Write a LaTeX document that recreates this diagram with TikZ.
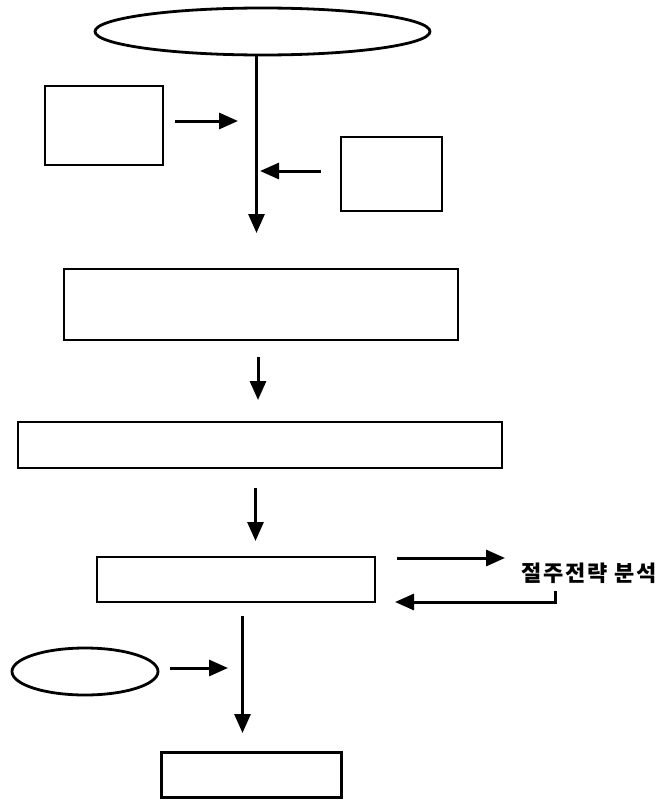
\documentclass[tikz,border=0pt]{standalone}
\usepackage{fontspec}
\newfontfamily\kr{Noto Sans CJK KR}[LetterSpace=8]
\usetikzlibrary{arrows.meta,shapes.geometric,calc}
\begin{document}
\begin{tikzpicture}[x=1pt,y=-1pt,
  box/.style={draw, line width=2.8pt, rectangle, inner sep=0pt},
  ell/.style={draw, line width=2.8pt, ellipse, inner sep=0pt},
  arr/.style={line width=3pt, -{Triangle[length=19pt,width=16pt]}},
  lbl/.style={font=\kr\bfseries\fontsize{22pt}{24pt}\selectfont, inner sep=0pt, anchor=west}]
\useasboundingbox (0,0) rectangle (661,803);
% nodes
\node[ell, minimum width=335pt, minimum height=47pt] (top) at (262.5,31.5) {};
\node[box, minimum width=118pt, minimum height=79pt] (lbox) at (104,125.5) {};
\node[box, minimum width=101pt, minimum height=74pt] (rbox) at (391.5,174) {};
\node[box, minimum width=394pt, minimum height=71pt] (b2) at (261,304.5) {};
\node[box, minimum width=484pt, minimum height=46pt] (b3) at (260,445) {};
\node[box, minimum width=278pt, minimum height=45pt] (b4) at (236,579.5) {};
\node[lbl] (txt) at (521,573) {절주전략 분석};
\node[ell, minimum width=146pt, minimum height=47pt] (e2) at (85,671.5) {};
\node[box, minimum width=180pt, minimum height=45pt] (b5) at (251.5,775) {};
% free-end coordinates
\coordinate (t1) at (256.5,233);
\coordinate (s2) at (175,121);
\coordinate (t2) at (238,121);
\coordinate (s3) at (321,171);
\coordinate (t3) at (260,171);
\coordinate (s4) at (258,357);
\coordinate (t4) at (258,400);
\coordinate (s5) at (255.5,488);
\coordinate (t5) at (255.5,541);
\coordinate (s6) at (397,558);
\coordinate (t6) at (505,558);
\coordinate (s7) at (555,591);
\coordinate (k7) at (555,602);
\coordinate (t7) at (395,602);
\coordinate (s8) at (170,668);
\coordinate (t8) at (228,668);
\coordinate (s9) at (242.5,616);
\coordinate (t9) at (242.5,733);
% connectors
\draw[arr] (top.south -| t1) -- (t1);
\draw[arr] (s2) -- (t2);
\draw[arr] (s3) -- (t3);
\draw[arr] (s4) -- (t4);
\draw[arr] (s5) -- (t5);
\draw[arr] (s6) -- (t6);
\draw[arr] (s7) -- (k7) -- (t7);
\draw[arr] (s8) -- (t8);
\draw[arr] (s9) -- (t9);
\end{tikzpicture}
\end{document}
